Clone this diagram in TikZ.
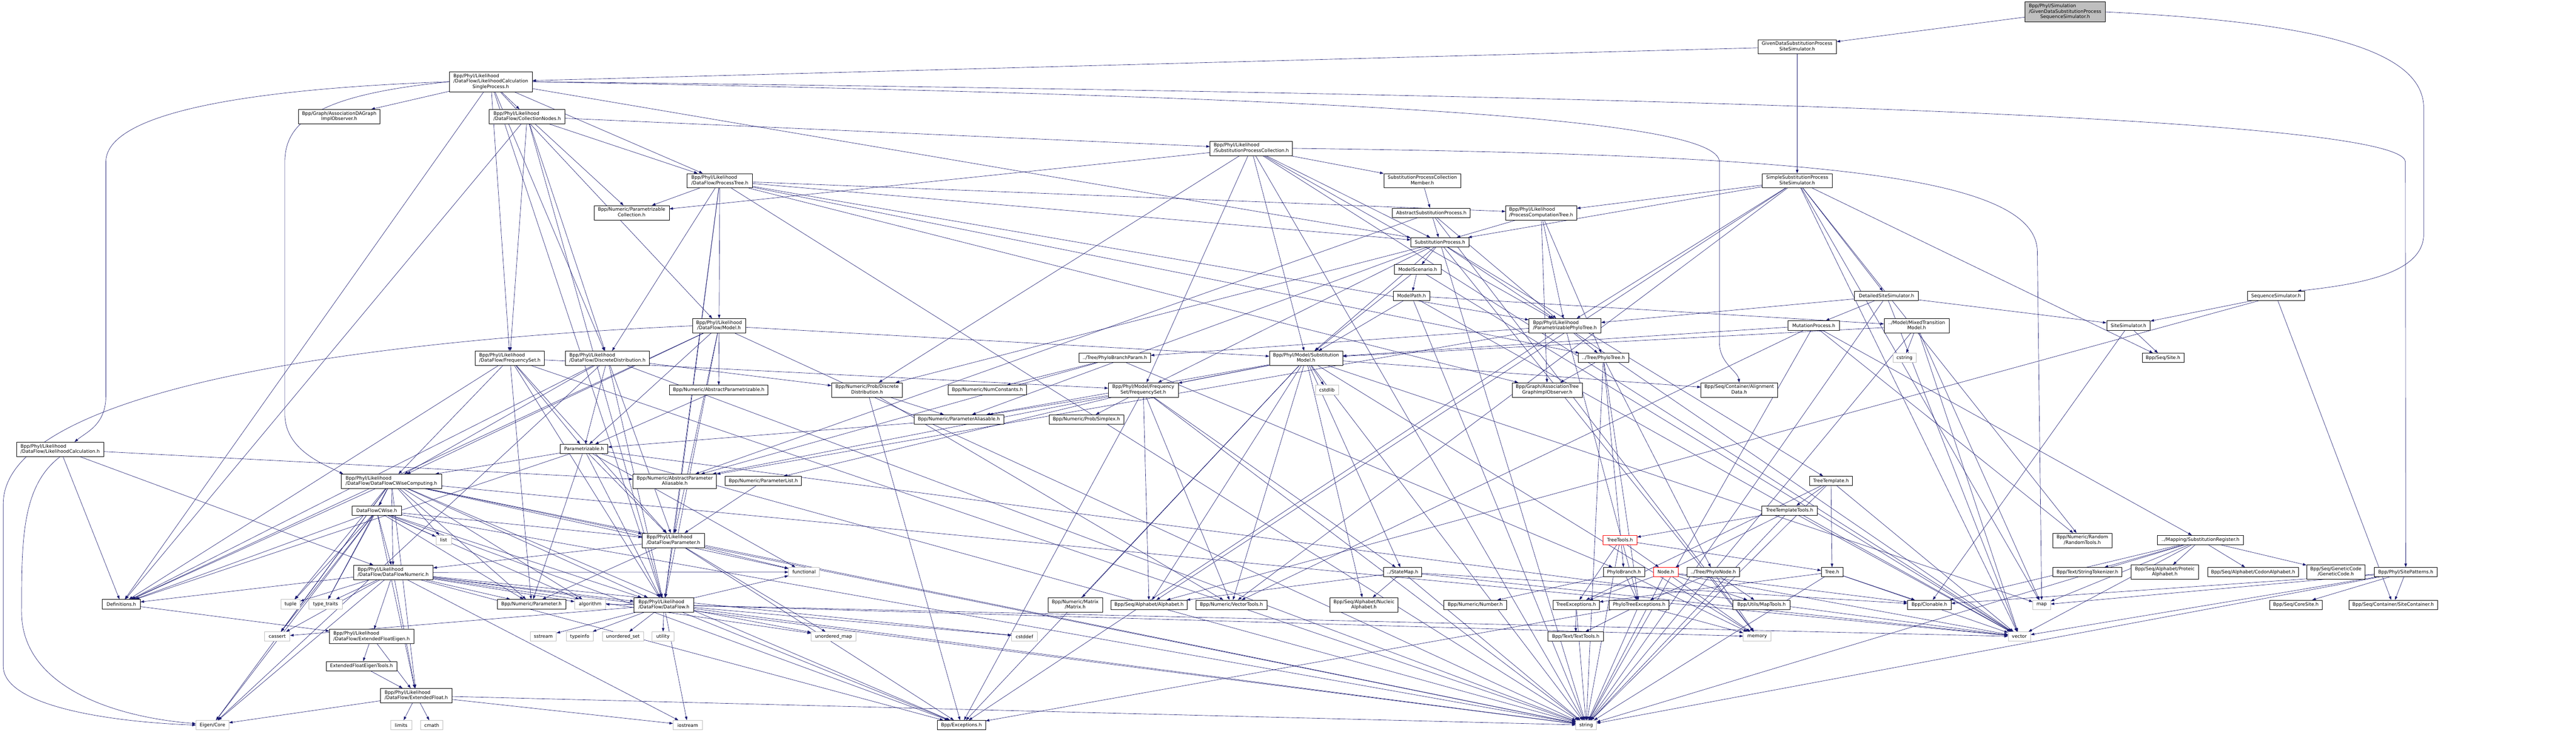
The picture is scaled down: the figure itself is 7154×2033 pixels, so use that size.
\documentclass[tikz,border=0pt]{standalone}
\usepackage{fontspec}
\setmainfont{DejaVu Sans}
\usetikzlibrary{arrows.meta}
\definecolor{edgec}{RGB}{25,25,112}
\definecolor{sysg}{RGB}{191,191,191}
\newcommand{\twol}[2]{\begin{tabular}{@{}l@{}}#1\\\multicolumn{1}{@{}c@{}}{#2}\end{tabular}}
\newcommand{\threel}[3]{\begin{tabular}{@{}l@{}}#1\\#2\\\multicolumn{1}{@{}c@{}}{#3}\end{tabular}}
\pgfdeclarelayer{bg}
\pgfdeclarelayer{paper}
\pgfsetlayers{paper,bg,main}
\begin{document}
\begin{tikzpicture}[x=1pt,y=-1pt,
 box/.style={draw=black, fill=white, line width=1pt, inner sep=0pt, font=\fontsize{13}{15}\selectfont, minimum height=26pt},
 two/.style={box, minimum height=40pt},
 three/.style={box, minimum height=55pt},
 sys/.style={box, draw=sysg},
 trunc/.style={box, draw=red},
 edge/.style={draw=edgec, line width=0.9pt, -{Triangle[length=10pt,width=7pt]}}]
\begin{pgfonlayer}{paper}
\fill[white] (0,0) rectangle (7154,2033);
\end{pgfonlayer}
\useasboundingbox (0,0) rectangle (7154,2033);
\node[three, fill=sysg, minimum width=222pt] (root) at (5735,33) {\threel{Bpp/Phyl/Simulation}{/GivenDataSubstitutionProcess}{SequenceSimulator.h}};
\node[two, minimum width=218pt] (gdsim) at (4991,130) {\twol{GivenDataSubstitutionProcess}{SiteSimulator.h}};
\node[three, minimum width=230pt] (lcsp) at (1363,227) {\threel{Bpp/Phyl/Likelihood}{/DataFlow/LikelihoodCalculation}{SingleProcess.h}};
\node[two, minimum width=226pt] (assocdag) at (942,324) {\twol{Bpp/Graph/AssociationDAGraph}{ImplObserver.h}};
\node[two, minimum width=210pt] (colnodes) at (1464,324) {\twol{Bpp/Phyl/Likelihood}{/DataFlow/CollectionNodes.h}};
\node[two, minimum width=229pt] (spc) at (3475,412) {\twol{Bpp/Phyl/Likelihood}{/SubstitutionProcessCollection.h}};
\node[two, minimum width=182pt] (ptree) at (1999,502) {\twol{Bpp/Phyl/Likelihood}{/DataFlow/ProcessTree.h}};
\node[two, minimum width=214pt] (spcm) at (3950,502) {\twol{SubstitutionProcessCollection}{Member.h}};
\node[two, minimum width=194pt] (ssim) at (4991,502) {\twol{SimpleSubstitutionProcess}{SiteSimulator.h}};
\node[two, minimum width=209pt] (pcoll) at (1754,591) {\twol{Bpp/Numeric/Parametrizable}{Collection.h}};
\node[box, minimum width=216pt] (asp) at (3975,591) {AbstractSubstitutionProcess.h};
\node[two, minimum width=197pt] (pct) at (4280,591) {\twol{Bpp/Phyl/Likelihood}{/ProcessComputationTree.h}};
\node[box, minimum width=162pt] (sp) at (3999,673) {SubstitutionProcess.h};
\node[box, minimum width=130pt] (mscen) at (3937,748) {ModelScenario.h};
\node[box, minimum width=101pt] (mpath) at (3920,822) {ModelPath.h};
\node[box, minimum width=178pt] (dss) at (5239,822) {DetailedSiteSimulator.h};
\node[box, minimum width=158pt] (seqsim) at (6321,822) {SequenceSimulator.h};
\node[two, minimum width=148pt] (model) at (1997,905) {\twol{Bpp/Phyl/Likelihood}{/DataFlow/Model.h}};
\node[two, minimum width=200pt] (ppt) at (4346,905) {\twol{Bpp/Phyl/Likelihood}{/ParametrizablePhyloTree.h}};
\node[box, minimum width=143pt] (mutp) at (5037,904) {MutationProcess.h};
\node[two, minimum width=181pt] (mixed) at (5323,905) {\twol{../Model/MixedTransition}{Model.h}};
\node[box, minimum width=121pt] (sitesim) at (5911,904) {SiteSimulator.h};
\node[two, minimum width=192pt] (dffreq) at (1416,995) {\twol{Bpp/Phyl/Likelihood}{/DataFlow/FrequencySet.h}};
\node[two, minimum width=233pt] (dfdisc) at (1687,995) {\twol{Bpp/Phyl/Likelihood}{/DataFlow/DiscreteDistribution.h}};
\node[box, minimum width=198pt] (pbp) at (3096,994) {../Tree/PhyloBranchParam.h};
\node[two, minimum width=203pt] (smodel) at (3627,995) {\twol{Bpp/Phyl/Model/Substitution}{Model.h}};
\node[box, minimum width=139pt] (ptreeh) at (4453,994) {../Tree/PhyloTree.h};
\node[sys, minimum width=64pt] (cstring) at (5289,994) {cstring};
\node[box, minimum width=116pt] (site) at (6007,994) {Bpp/Seq/Site.h};
\node[box, minimum width=274pt] (absparam) at (1996,1083) {Bpp/Numeric/AbstractParametrizable.h};
\node[two, minimum width=197pt] (ndisc) at (2408,1083) {\twol{Bpp/Numeric/Prob/Discrete}{Distribution.h}};
\node[box, minimum width=218pt] (numconst) at (2742,1083) {Bpp/Numeric/NumConstants.h};
\node[two, minimum width=194pt] (mfreq) at (3175,1083) {\twol{Bpp/Phyl/Model/Frequency}{Set/FrequencySet.h}};
\node[sys, minimum width=64pt] (cstdlib) at (3685,1083) {cstdlib};
\node[two, minimum width=195pt] (atgio) at (4297,1083) {\twol{Bpp/Graph/AssociationTree}{GraphImplObserver.h}};
\node[two, minimum width=212pt] (aligndata) at (4830,1083) {\twol{Bpp/Seq/Container/Alignment}{Data.h}};
\node[box, minimum width=249pt] (paraal) at (2663,1165) {Bpp/Numeric/ParameterAliasable.h};
\node[box, minimum width=207pt] (simplex) at (3017,1165) {Bpp/Numeric/Prob/Simplex.h};
\node[two, minimum width=242pt] (lc) at (167,1248) {\twol{Bpp/Phyl/Likelihood}{/DataFlow/LikelihoodCalculation.h}};
\node[box, minimum width=132pt] (parametrizable) at (1622,1247) {Parametrizable.h};
\node[two, minimum width=278pt] (dfcwc) at (1087,1337) {\twol{Bpp/Phyl/Likelihood}{/DataFlow/DataFlowCWiseComputing.h}};
\node[two, minimum width=232pt] (apa) at (1874,1337) {\twol{Bpp/Numeric/AbstractParameter}{Aliasable.h}};
\node[box, minimum width=212pt] (plist) at (2120,1336) {Bpp/Numeric/ParameterList.h};
\node[box, minimum width=119pt] (ttemplate) at (5085,1336) {TreeTemplate.h};
\node[box, minimum width=137pt] (dfcw) at (1046,1418) {DataFlowCWise.h};
\node[box, minimum width=154pt] (ttt) at (4970,1418) {TreeTemplateTools.h};
\node[sys, minimum width=43pt] (list) at (1232,1500) {list};
\node[two, minimum width=173pt] (dfparam) at (1870,1501) {\twol{Bpp/Phyl/Likelihood}{/DataFlow/Parameter.h}};
\node[trunc, minimum width=94pt] (treetools) at (4499,1500) {TreeTools.h};
\node[two, minimum width=164pt] (randtools) at (5783,1501) {\twol{Bpp/Numeric/Random}{/RandomTools.h}};
\node[box, minimum width=239pt] (subreg) at (6111,1500) {../Mapping/SubstitutionRegister.h};
\node[two, minimum width=221pt] (dfnum) at (1092,1590) {\twol{Bpp/Phyl/Likelihood}{/DataFlow/DataFlowNumeric.h}};
\node[sys, minimum width=86pt] (functional) at (2233,1589) {functional};
\node[box, minimum width=106pt] (statemap) at (3895,1589) {../StateMap.h};
\node[box, minimum width=114pt] (phylobranch) at (4510,1589) {PhyloBranch.h};
\node[trunc, minimum width=68pt] (nodeh) at (4626,1589) {Node.h};
\node[box, minimum width=147pt] (phylonode) at (4758,1589) {../Tree/PhyloNode.h};
\node[box, minimum width=60pt] (treeh) at (5088,1589) {Tree.h};
\node[box, minimum width=192pt] (strtok) at (5797,1589) {Bpp/Text/StringTokenizer.h};
\node[two, minimum width=187pt] (proteic) at (6012,1589) {\twol{Bpp/Seq/Alphabet/Proteic}{Alphabet.h}};
\node[box, minimum width=251pt] (codon) at (6257,1589) {Bpp/Seq/Alphabet/CodonAlphabet.h};
\node[two, minimum width=162pt] (gencode) at (6487,1589) {\twol{Bpp/Seq/GeneticCode}{/GeneticCode.h}};
\node[box, minimum width=174pt] (sitepat) at (6681,1589) {Bpp/Phyl/SitePatterns.h};
\node[box, minimum width=105pt] (defs) at (337,1678) {Definitions.h};
\node[sys, minimum width=53pt] (tuple) at (807,1678) {tuple};
\node[sys, minimum width=93pt] (typetraits) at (904,1678) {type\_traits};
\node[box, minimum width=191pt] (nparam) at (1476,1678) {Bpp/Numeric/Parameter.h};
\node[sys, minimum width=86pt] (algorithm) at (1639,1678) {algorithm};
\node[two, minimum width=166pt] (dataflow) at (1844,1680) {\twol{Bpp/Phyl/Likelihood}{/DataFlow/DataFlow.h}};
\node[two, minimum width=152pt] (matrix) at (2986,1680) {\twol{Bpp/Numeric/Matrix}{/Matrix.h}};
\node[box, minimum width=211pt] (alphabet) at (3191,1680) {Bpp/Seq/Alphabet/Alphabet.h};
\node[box, minimum width=197pt] (vectools) at (3420,1680) {Bpp/Numeric/VectorTools.h};
\node[two, minimum width=188pt] (nucleic) at (3788,1680) {\twol{Bpp/Seq/Alphabet/Nucleic}{Alphabet.h}};
\node[box, minimum width=175pt] (number) at (4097,1680) {Bpp/Numeric/Number.h};
\node[box, minimum width=129pt] (treeexc) at (4377,1680) {TreeExceptions.h};
\node[box, minimum width=167pt] (ptreeexc) at (4552,1680) {PhyloTreeExceptions.h};
\node[box, minimum width=159pt] (maptools) at (4892,1680) {Bpp/Utils/MapTools.h};
\node[box, minimum width=121pt] (clonable) at (5358,1680) {Bpp/Clonable.h};
\node[sys, minimum width=49pt] (map) at (5670,1680) {map};
\node[box, minimum width=147pt] (coresite) at (6376,1680) {Bpp/Seq/CoreSite.h};
\node[box, minimum width=246pt] (sitecont) at (6646,1680) {Bpp/Seq/Container/SiteContainer.h};
\node[sys, minimum width=70pt] (cassert) at (770,1768) {cassert};
\node[two, minimum width=234pt] (efe) at (1032,1768) {\twol{Bpp/Phyl/Likelihood}{/DataFlow/ExtendedFloatEigen.h}};
\node[sys, minimum width=72pt] (sstream) at (1509,1768) {sstream};
\node[sys, minimum width=75pt] (typeinfo) at (1610,1768) {typeinfo};
\node[sys, minimum width=114pt] (uset) at (1730,1768) {unordered\_set};
\node[sys, minimum width=61pt] (utility) at (1841,1768) {utility};
\node[sys, minimum width=124pt] (umap) at (2315,1768) {unordered\_map};
\node[sys, minimum width=71pt] (cstddef) at (2845,1768) {cstddef};
\node[box, minimum width=154pt] (texttools) at (4376,1768) {Bpp/Text/TextTools.h};
\node[sys, minimum width=77pt] (memory) at (4880,1768) {memory};
\node[sys, minimum width=62pt] (vector) at (5608,1768) {vector};
\node[box, minimum width=196pt] (efet) at (1004,1850) {ExtendedFloatEigenTools.h};
\node[two, minimum width=198pt] (ef) at (1156,1932) {\twol{Bpp/Phyl/Likelihood}{/DataFlow/ExtendedFloat.h}};
\node[sys, minimum width=91pt] (eigen) at (590,2014) {Eigen/Core};
\node[sys, minimum width=58pt] (limits) at (1114,2014) {limits};
\node[sys, minimum width=61pt] (cmath) at (1199,2014) {cmath};
\node[sys, minimum width=81pt] (iostream) at (1910,2014) {iostream};
\node[box, minimum width=134pt] (exceptions) at (2670,2014) {Bpp/Exceptions.h};
\node[sys, minimum width=57pt] (string) at (4405,2014) {string};
\begin{pgfonlayer}{bg}
% long routed connectors
\draw[edge] (root.east) .. controls (6400,60) and (6731,130) .. (6731,300) -- (6731,650) .. controls (6731,760) and (6550,790) .. ([xshift=-20pt]seqsim.north east);
\draw[edge] (lcsp.west) .. controls (600,250) and (294,330) .. (294,450) -- (294,1100) .. controls (294,1180) and (240,1200) .. ([xshift=40pt]lc.north);
\draw[edge] (lcsp.west) .. controls (900,262) and (791,330) .. (791,450) -- (791,1150) .. controls (791,1250) and (900,1290) .. ([xshift=-134pt]dfcwc.north);
\draw[edge] (lcsp.east) .. controls (4500,262) and (6680,320) .. (6680,450) -- (sitepat.north);
\draw[edge] (lcsp.east) .. controls (3800,270) and (4775,330) .. (4775,450) -- (4775,950) .. controls (4775,1010) and (4826,1030) .. (aligndata.north);
\draw[edge] (spc.east) .. controls (5000,430) and (5658,480) .. (5658,700) -- (map.north);
\draw[edge] (model.west) .. controls (900,950) and (9,1100) .. (9,1400) -- (9,1850) .. controls (9,1960) and (300,2005) .. (eigen.west);
\draw[edge] (lc.south) .. controls (60,1350) and (60,1500) .. (60,1700) .. controls (60,1900) and (300,1990) .. ([yshift=4pt]eigen.west);
\foreach \a/\b in {root/gdsim,
gdsim/lcsp, gdsim/ssim,
lcsp/assocdag, lcsp/colnodes, lcsp/dffreq, lcsp/dfdisc, lcsp/model, lcsp/ptree, lcsp/sp, lcsp/dataflow, lcsp/defs,
colnodes/spc, colnodes/ptree, colnodes/pcoll, colnodes/dffreq, colnodes/dfdisc, colnodes/dataflow, colnodes/defs,
spc/spcm, spc/pcoll, spc/sp, spc/smodel, spc/ppt, spc/mfreq, spc/ndisc, spc/vector, spc/string,
ptree/pcoll, ptree/model, ptree/pct, ptree/sp, ptree/ppt, ptree/dfdisc, ptree/dfparam, ptree/dataflow, ptree/ptreeh, ptree/atgio, ptree/string,
spcm/asp,
asp/sp, asp/apa, asp/ppt, asp/memory,
pct/sp, pct/ppt, pct/ptreeh, pct/atgio,
ssim/pct, ssim/sp, ssim/ppt, ssim/dss, ssim/site, ssim/randtools, ssim/map, ssim/vector, ssim/vectools, ssim/alphabet,
sp/mscen, sp/ppt, sp/smodel, sp/mfreq, sp/ndisc, sp/paraal, sp/ttemplate, sp/memory, sp/string,
mscen/mpath, mscen/smodel, mscen/vector,
mpath/mixed, mpath/smodel, mpath/vector, mpath/string,
dss/ppt, dss/mutp, dss/sitesim, dss/vector, dss/string,
seqsim/sitesim, seqsim/sitecont, seqsim/alphabet,
model/parametrizable, model/dfcwc, model/defs, model/smodel, model/absparam, model/dataflow, model/dfparam, model/string,
ppt/ptreeh, ppt/pbp, ppt/apa, ppt/ptreeexc, ppt/exceptions, ppt/vector,
mutp/smodel, mutp/subreg, mutp/randtools, mutp/vectools, mutp/string,
mixed/smodel, mixed/cstring, mixed/vector, mixed/string, mixed/map,
sitesim/site, sitesim/clonable,
dffreq/parametrizable, dffreq/dfcwc, dffreq/defs, dffreq/mfreq, dffreq/dataflow, dffreq/dfparam, dffreq/nparam, dffreq/string,
dfdisc/parametrizable, dfdisc/dfcwc, dfdisc/defs, dfdisc/ndisc, dfdisc/dataflow, dfdisc/dfparam, dfdisc/string, dfdisc/eigen,
pbp/phylobranch, pbp/apa, pbp/numconst,
smodel/cstdlib, smodel/statemap, smodel/alphabet, smodel/mfreq, smodel/matrix, smodel/vectools, smodel/exceptions, smodel/paraal, smodel/apa, smodel/aligndata, smodel/map, smodel/string, smodel/memory, smodel/nucleic,
ptreeh/atgio, ptreeh/phylonode, ptreeh/phylobranch, ptreeh/ptreeexc, ptreeh/string,
absparam/parametrizable,
mfreq/paraal, mfreq/simplex, mfreq/alphabet, mfreq/vectools, mfreq/exceptions, mfreq/statemap, mfreq/string, mfreq/plist,
ndisc/paraal, ndisc/vectools, ndisc/exceptions,
paraal/parametrizable,
plist/dfparam,
statemap/nucleic, statemap/alphabet, statemap/clonable, statemap/string, statemap/vector,
ttemplate/ttt, ttemplate/treeh, ttemplate/treeexc, ttemplate/string, ttemplate/vector,
ttt/treetools, ttt/nodeh, ttt/string, ttt/vector,
treetools/nodeh, treetools/treeh, treetools/treeexc, treetools/string,
phylobranch/number, phylobranch/ptreeexc, phylobranch/memory,
nodeh/treeexc, nodeh/maptools, nodeh/memory, nodeh/string, nodeh/vector, nodeh/clonable,
phylonode/ptreeexc, phylonode/maptools, phylonode/memory,
treeh/treeexc, treeh/clonable, treeh/string, treeh/vector,
treeexc/texttools, treeexc/string,
ptreeexc/texttools, ptreeexc/memory, ptreeexc/string, ptreeexc/exceptions,
subreg/strtok, subreg/proteic, subreg/codon, subreg/gencode, subreg/map, subreg/vector, subreg/clonable, subreg/string,
sitepat/coresite, sitepat/sitecont, sitepat/vector, sitepat/map, sitepat/clonable, sitepat/string,
dfcwc/dfcw, dfcwc/dfnum, dfcwc/list, dfcwc/tuple, dfcwc/typetraits, dfcwc/cassert, dfcwc/eigen, dfcwc/defs, dfcwc/nparam, dfcwc/algorithm, dfcwc/ef, dfcwc/dfparam, dfcwc/dataflow, dfcwc/string, dfcwc/vector, dfcwc/functional, dfcwc/exceptions,
dfcw/list, dfcw/dfnum, dfcw/defs, dfcw/tuple, dfcw/typetraits, dfcw/cassert, dfcw/eigen, dfcw/ef, dfcw/dfparam, dfcw/dataflow, dfcw/nparam, dfcw/algorithm, dfcw/string, dfcw/exceptions,
dfnum/defs, dfnum/tuple, dfnum/typetraits, dfnum/cassert, dfnum/eigen, dfnum/efe, dfnum/ef, dfnum/nparam, dfnum/algorithm, dfnum/dataflow, dfnum/functional, dfnum/umap, dfnum/string, dfnum/iostream, dfnum/exceptions, dfnum/cstddef,
lc/defs, lc/dfnum, lc/apa,
dfparam/dataflow, dfparam/functional, dfparam/umap, dfparam/dfnum, dfparam/nparam, dfparam/exceptions, dfparam/string,
parametrizable/dfcwc, parametrizable/defs, parametrizable/dfparam, parametrizable/dataflow, parametrizable/nparam, parametrizable/string, parametrizable/vector, parametrizable/functional,
defs/efe, efe/efet, efe/ef, efet/ef,
ef/eigen, ef/limits, ef/cmath, ef/string, ef/iostream,
dataflow/sstream, dataflow/typeinfo, dataflow/uset, dataflow/utility, dataflow/cassert, dataflow/umap, dataflow/cstddef, dataflow/iostream, dataflow/exceptions, dataflow/string, dataflow/vector, dataflow/memory, dataflow/functional, dataflow/algorithm}
  \draw[edge] (\a) -- (\b);
\end{pgfonlayer}
\end{tikzpicture}
\end{document}
